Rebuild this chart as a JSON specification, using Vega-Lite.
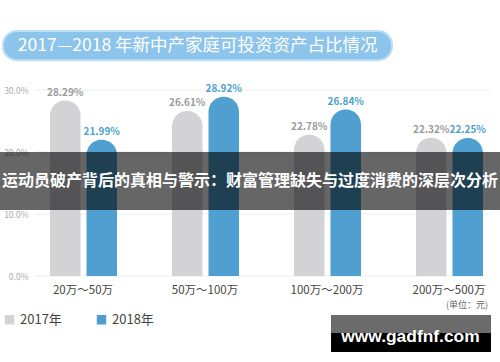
{
  "$schema": "https://vega.github.io/schema/vega-lite/v6.json",
  "width": 500,
  "height": 362,
  "autosize": "none",
  "padding": 0,
  "background": "#ffffff",
  "config": {
    "view": {"stroke": null},
    "font": "Noto Sans CJK SC",
    "legend": {
      "orient": "none",
      "legendX": 3,
      "legendY": 313,
      "direction": "horizontal",
      "symbolType": "square",
      "symbolSize": 90,
      "symbolStrokeWidth": 0,
      "labelFontSize": 13,
      "labelColor": "#444444",
      "labelFont": "Noto Sans CJK SC",
      "columnPadding": 33,
      "labelOffset": 4,
      "padding": 0,
      "title": null
    }
  },
  "data": {
    "values": [
      {"group": "20万～50万", "year": "2017年", "value": 0.2829},
      {"group": "20万～50万", "year": "2018年", "value": 0.2199},
      {"group": "50万～100万", "year": "2017年", "value": 0.2661},
      {"group": "50万～100万", "year": "2018年", "value": 0.2892},
      {"group": "100万～200万", "year": "2017年", "value": 0.2278},
      {"group": "100万～200万", "year": "2018年", "value": 0.2684},
      {"group": "200万～500万", "year": "2017年", "value": 0.2232},
      {"group": "200万～500万", "year": "2018年", "value": 0.2225}
    ]
  },
  "layer": [
    {
      "data": {"values": [{"tick": 0}, {"tick": 0.1}, {"tick": 0.2}, {"tick": 0.3}]},
      "mark": {"type": "rule", "color": "#ededed", "strokeWidth": 1},
      "encoding": {
        "x": {
          "datum": "20万～50万", "bandPosition": 0.107, "type": "nominal",
          "scale": {"domain": ["20万～50万", "50万～100万", "100万～200万", "200万～500万"], "range": [22, 510], "paddingInner": 0, "paddingOuter": 0},
          "axis": {
            "orient": "bottom", "offset": -86, "title": null, "labelAngle": 0, "bandPosition": 0.5,
            "labelFontSize": 11.5, "labelColor": "#444444", "labelPadding": 8,
            "domain": false, "ticks": false, "grid": false
          }
        },
        "x2": {"datum": "200万～500万", "bandPosition": 0.836},
        "y": {"field": "tick", "type": "quantitative"}
      }
    },
    {
      "mark": {"type": "bar", "cornerRadiusTopLeft": 15, "cornerRadiusTopRight": 15},
      "encoding": {
        "x": {
          "field": "group", "type": "nominal", "sort": null,
          "scale": {"domain": ["20万～50万", "50万～100万", "100万～200万", "200万～500万"], "range": [22, 510], "paddingInner": 0, "paddingOuter": 0},
          "axis": {
            "orient": "bottom", "offset": -86, "title": null, "labelAngle": 0, "bandPosition": 0.5,
            "labelFontSize": 11.5, "labelColor": "#444444", "labelPadding": 8,
            "domain": false, "ticks": false, "grid": false
          }
        },
        "xOffset": {
          "field": "year", "type": "nominal",
          "scale": {"range": [28, 95], "paddingInner": 0.164, "paddingOuter": 0}
        },
        "y": {
          "field": "value", "type": "quantitative", "stack": null,
          "scale": {"domain": [-0.1387, 0.4452], "nice": false, "zero": false},
          "axis": {
            "orient": "left", "offset": -35, "title": null,
            "values": [0, 0.1, 0.2, 0.3], "format": ".1%",
            "labelFontSize": 8.5, "labelColor": "#aaaaaa", "labelPadding": 7,
            "domain": false, "ticks": false, "grid": false
          }
        },
        "color": {
          "field": "year", "type": "nominal",
          "scale": {"domain": ["2017年", "2018年"], "range": ["#d3d3d6", "#4fa0d0"]}
        }
      }
    },
    {
      "mark": {"type": "text", "baseline": "middle", "dy": -8, "fontSize": 10, "fontWeight": "bold"},
      "encoding": {
        "x": {"field": "group", "type": "nominal", "sort": null},
        "xOffset": {"field": "year", "type": "nominal"},
        "y": {"field": "value", "type": "quantitative"},
        "text": {"field": "value", "type": "quantitative", "format": ".2%"},
        "color": {"condition": {"test": "datum.year === '2017年'", "value": "#9b9b9b"}, "value": "#4f9fcb"}
      }
    },
    {
      "data": {"values": [{"note": "运动员破产背后的真相与警示：财富管理缺失与过度消费的深层次分析"}]},
      "layer": [
        {
          "mark": {"type": "rect", "color": "#000000", "opacity": 0.6},
          "encoding": {"y": {"datum": 0.2}, "y2": {"datum": 0.1065}}
        },
        {
          "mark": {"type": "text", "color": "#ffffff", "fontSize": 16, "fontWeight": "bold", "baseline": "middle", "align": "center"},
          "encoding": {"y": {"datum": 0.154}, "text": {"field": "note"}}
        }
      ]
    },
    {
      "data": {"values": [{"title": "2017—2018 年新中产家庭可投资资产占比情况"}]},
      "layer": [
        {
          "mark": {"type": "rect", "color": "#8cc4ec", "stroke": "#b9def6", "strokeWidth": 2, "cornerRadius": 14},
          "encoding": {
            "x": {"datum": "20万～50万", "bandPosition": -0.156},
            "x2": {"datum": "200万～500万", "bandPosition": 0.033},
            "y": {"datum": 0.395},
            "y2": {"datum": 0.348}
          }
        },
        {
          "mark": {"type": "text", "color": "#ffffff", "fontSize": 17.5, "baseline": "middle", "align": "center"},
          "encoding": {
            "x": {"datum": "100万～200万", "bandPosition": -0.56},
            "y": {"datum": 0.3718},
            "text": {"field": "title"}
          }
        }
      ]
    },
    {
      "data": {"values": [{"unit": "(单位：元)"}]},
      "mark": {"type": "text", "color": "#666666", "fontSize": 9, "baseline": "middle", "align": "right"},
      "encoding": {
        "x": {"datum": "200万～500万", "bandPosition": 0.82},
        "y": {"datum": -0.0468},
        "text": {"field": "unit"}
      }
    },
    {
      "data": {"values": [{"site": "www.gadfnf.com"}]},
      "layer": [
        {
          "mark": {"type": "rect", "color": "#000000"},
          "encoding": {
            "x": {"datum": "100万～200万", "bandPosition": 0.533},
            "x2": {"datum": "200万～500万", "bandPosition": 0.844},
            "y": {"datum": -0.0629},
            "y2": {"datum": -0.1226}
          }
        },
        {
          "mark": {"type": "rect", "color": "#6b6b6b"},
          "encoding": {
            "x": {"datum": "100万～200万", "bandPosition": 0.533},
            "x2": {"datum": "200万～500万", "bandPosition": 0.844},
            "y": {"datum": -0.0629},
            "y2": {"datum": -0.0919}
          }
        },
        {
          "mark": {"type": "text", "color": "#ffffff", "fontSize": 17.4, "fontWeight": "bold", "baseline": "middle", "align": "center", "font": "Liberation Sans"},
          "encoding": {
            "x": {"datum": "200万～500万", "bandPosition": 0.184},
            "y": {"datum": -0.0984},
            "text": {"field": "site"}
          }
        }
      ]
    }
  ]
}
